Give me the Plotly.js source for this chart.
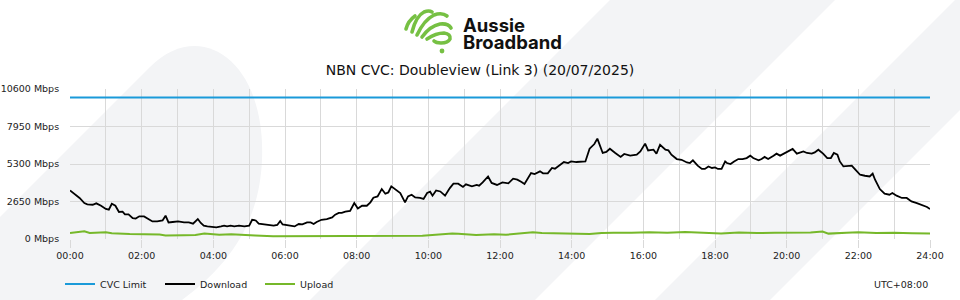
<!DOCTYPE html>
<html><head><meta charset="utf-8">
<script src="https://cdn.plot.ly/plotly-3.0.1.min.js"></script>
<style>html,body{margin:0;padding:0;background:#fff}#chart{width:960px;height:300px}</style>
</head><body><div id="chart"></div>
<script>
// ---- data ----
const downloadTimes = ['00:00','00:07','00:16','00:24','00:29','00:38','00:44','00:52','01:00','01:05','01:10','01:16','01:22','01:28','01:32','01:38','01:45','01:50','01:56','02:04','02:11','02:18','02:26','02:35','02:40','02:45','02:52','03:01','03:11','03:19','03:26','03:34','03:39','03:44','03:50','03:58','04:05','04:13','04:18','04:23','04:29','04:35','04:43','04:52','05:00','05:05','05:11','05:16','05:25','05:33','05:41','05:47','05:52','05:56','06:02','06:09','06:16','06:23','06:29','06:37','06:43','06:48','06:53','07:01','07:10','07:19','07:24','07:30','07:35','07:41','07:49','07:56','08:02','08:09','08:17','08:23','08:28','08:35','08:42','08:48','08:53','08:58','09:04','09:13','09:21','09:26','09:32','09:38','09:46','09:52','09:58','10:03','10:07','10:13','10:20','10:28','10:36','10:42','10:50','10:58','11:03','11:13','11:21','11:25','11:31','11:40','11:46','11:55','12:04','12:14','12:22','12:29','12:36','12:41','12:52','12:58','13:07','13:12','13:20','13:27','13:32','13:40','13:47','13:54','13:59','14:08','14:23','14:30','14:38','14:43','14:52','14:58','15:04','15:13','15:22','15:28','15:38','15:49','15:55','16:03','16:08','16:17','16:22','16:28','16:37','16:42','16:47','16:56','17:04','17:13','17:18','17:23','17:31','17:38','17:43','17:49','17:55','18:00','18:05','18:11','18:17','18:20','18:26','18:32','18:39','18:46','18:53','18:59','19:04','19:13','19:18','19:23','19:29','19:38','19:43','19:49','19:55','20:03','20:10','20:17','20:22','20:28','20:34','20:42','20:47','20:53','21:01','21:08','21:14','21:19','21:25','21:29','21:35','21:43','21:49','21:55','22:03','22:11','22:19','22:24','22:28','22:36','22:44','22:52','22:57','23:04','23:13','23:21','23:29','23:38','23:46','23:55','24:00'];
const downloadMbps = [3430,3200,2900,2540,2450,2420,2520,2350,2120,2070,2490,2350,1910,1930,1740,1740,1480,1440,1600,1600,1410,1240,1240,1310,1650,1170,1200,1240,1170,1170,1080,1410,1130,940,890,850,820,890,940,890,940,890,940,890,940,1360,1310,1080,1030,940,940,990,1270,1030,990,940,890,1060,1030,1170,1170,1060,1200,1360,1410,1530,1720,1840,1840,1930,1980,2540,2160,2350,2350,2590,2920,3010,3530,3200,3290,3720,3530,3250,2590,3010,3130,2940,2900,2830,3250,3340,3060,3430,3360,3060,3600,3910,3910,3680,3860,3720,3820,3770,4000,4420,3960,3820,4000,3930,4260,4190,4030,3890,4660,4590,4780,4640,4640,5020,4970,5200,5440,5370,5480,5440,5480,6380,6710,7090,6080,6150,6380,6080,5800,6010,5890,5960,6190,6740,6260,6310,6030,6660,6310,6260,5960,5650,5600,5410,5370,5560,5180,4950,4950,5130,5020,5060,4950,4950,5480,5370,5300,5480,5650,5650,5720,5890,5720,5560,5650,5800,5650,5890,6030,5890,6030,6170,6360,6030,6080,6190,6080,6030,6120,6310,6030,5720,5720,6080,5960,5480,5130,5130,5180,4900,4540,4470,4420,4620,4190,3530,3200,3130,3250,3060,2900,2900,2660,2540,2420,2260,2120];

const uploadTimes = ['00:00','00:16','00:24','00:33','00:50','01:00','01:10','01:40','02:30','02:40','03:10','03:30','03:45','04:10','04:30','04:50','05:10','05:40','06:10','06:40','07:20','07:50','08:10','08:40','09:10','09:50','10:40','10:50','11:20','11:50','12:10','12:40','12:55','13:10','13:40','14:10','14:30','14:50','15:10','15:40','16:10','16:40','17:10','17:40','18:10','18:40','19:10','19:40','20:10','20:40','21:00','21:10','21:40','22:00','22:30','23:00','23:30','24:00'];
const uploadMbps = [420,470,540,420,430,470,400,350,320,250,260,280,380,300,330,260,240,190,190,190,230,200,230,210,230,230,380,370,280,330,300,380,470,420,410,400,350,420,450,440,470,440,500,450,380,460,420,450,440,460,530,380,450,480,420,440,400,380];

const cvcTimes = ['00:00','24:00'];
const cvcMbps = [10000,10000];

const yTickValues = [0,2650,5300,7950,10600];
const xTickLabels = ['00:00','02:00','04:00','06:00','08:00','10:00','12:00','14:00','16:00','18:00','20:00','22:00','24:00'];
const seriesNames = ['CVC Limit','Download','Upload'];

function toHours(s){const p=s.split(':').map(Number);return p[0]+p[1]/60;}

// ---- background decoration + logo mark ----
const bgSvg = `<svg xmlns="http://www.w3.org/2000/svg" width="960" height="300" viewBox="0 0 960 300">
<g fill="#f3f4f6">
<path d="M0,217 L150,67 C200,17 266,60 262,160 C259,230 222,270 182,300 L0,300 Z"/>
<path d="M610,0 L835,0 L535,300 L310,300 Z"/>
<path d="M955,0 L1070,0 L770,300 L655,300 Z" transform="translate(0,0)"/>
</g>
<g fill="none" stroke="#76c043" stroke-width="3.6" stroke-linecap="round" stroke-linejoin="round">
<path d="M406,29 Q408,21 415,16"/>
<path d="M412,32 Q416,16 424,12 Q429,10 432,12"/>
<path d="M417,35 Q424,20 434,15 Q442,12 447,16"/>
<path d="M422,37 Q430,26 440,24 Q448,23 451,28"/>
<path d="M427,39 Q436,33 444,33 Q451,34 450,39 Q448,43 441,43 Q436,43 434,41"/>
</g>
<circle cx="442" cy="51" r="2.4" fill="#76c043"/>
</svg>`;

const PL = 70, PR = 930, PT = 89, PB = 239;
const pw = PR - PL, ph = PB - PT;
const px2x = x => (x - PL) / pw;
const py2y = y => (PB - y) / ph;

const font = 'DejaVu Sans, Verdana, sans-serif';

const traces = [
  {name: seriesNames[0], x: cvcTimes.map(toHours), y: cvcMbps, type:'scatter', mode:'lines',
   line:{color:'#1a9ad9', width:2}},
  {name: seriesNames[1], x: downloadTimes.map(toHours), y: downloadMbps, type:'scatter', mode:'lines',
   line:{color:'#000000', width:1.8}},
  {name: seriesNames[2], x: uploadTimes.map(toHours), y: uploadMbps, type:'scatter', mode:'lines',
   line:{color:'#76b82a', width:2}}
];

const layout = {
  width: 960, height: 300,
  margin: {l: PL, r: 960 - PR, t: PT, b: 300 - PB, pad: 0, autoexpand: false},
  paper_bgcolor: '#ffffff', plot_bgcolor: 'rgba(0,0,0,0)',
  font: {family: font, size: 9.5, color: '#222'},
  title: {text: 'NBN CVC: Doubleview (Link 3) (20/07/2025)', xref: 'container', x: 0.5, xanchor: 'center',
          yref: 'container', y: 1 - 70/300, yanchor: 'middle', font: {family: font, size: 14, color: '#111'}},
  xaxis: {range: [0, 24], tickmode: 'array', tickvals: xTickLabels.map(toHours), ticktext: xTickLabels,
          automargin: false,
          showgrid: true, gridcolor: '#d9d9d9', gridwidth: 1, zeroline: false, showline: false,
          ticks: 'outside', ticklen: 8, tickcolor: '#d9d9d9', tickwidth: 1,
          minor: {tickmode: 'linear', tick0: 0, dtick: 1, showgrid: true, gridcolor: '#d9d9d9', gridwidth: 1, ticks: ''},
          tickfont: {family: font, size: 9.5, color: '#222'}, fixedrange: true},
  yaxis: {range: [0, 10600], tickmode: 'array', tickvals: yTickValues, ticktext: yTickValues.map(v => v + ' Mbps'),
          automargin: false,
          showgrid: true, gridcolor: '#d9d9d9', gridwidth: 1, zeroline: false, showline: false,
          ticks: 'outside', ticklen: 8, tickcolor: 'rgba(0,0,0,0)',
          tickfont: {family: font, size: 9.5, color: '#222'}, fixedrange: true},
  showlegend: true,
  legend: {orientation: 'h', x: px2x(60), xanchor: 'left', y: py2y(284), yanchor: 'middle',
           font: {family: font, size: 9.5, color: '#222'}, bgcolor: 'rgba(0,0,0,0)',
           entrywidth: 55, entrywidthmode: 'pixels', itemclick: false, itemdoubleclick: false},
  images: [{source: 'data:image/svg+xml;charset=utf-8,' + encodeURIComponent(bgSvg),
            xref: 'paper', yref: 'paper', x: px2x(0), y: py2y(0), sizex: 960/pw, sizey: 300/ph,
            xanchor: 'left', yanchor: 'top', sizing: 'stretch', layer: 'below'}],
  annotations: [
    {text: 'Aussie', xref: 'paper', yref: 'paper', x: px2x(461), y: py2y(25), xanchor: 'left', yanchor: 'middle',
     showarrow: false, font: {family: 'Inter, Roboto, sans-serif', size: 18.5, color: '#111', weight: 700}},
    {text: 'Broadband', xref: 'paper', yref: 'paper', x: px2x(461), y: py2y(42.5), xanchor: 'left', yanchor: 'middle',
     showarrow: false, font: {family: 'Inter, Roboto, sans-serif', size: 18.5, color: '#111', weight: 700}},
    {text: 'UTC+08:00', xref: 'paper', yref: 'paper', x: 1, y: py2y(284), xanchor: 'right', yanchor: 'middle',
     showarrow: false, font: {family: font, size: 9.5, color: '#222'}}
  ]
};

Plotly.newPlot('chart', traces, layout, {displayModeBar: false, staticPlot: true});
</script>
</body></html>
